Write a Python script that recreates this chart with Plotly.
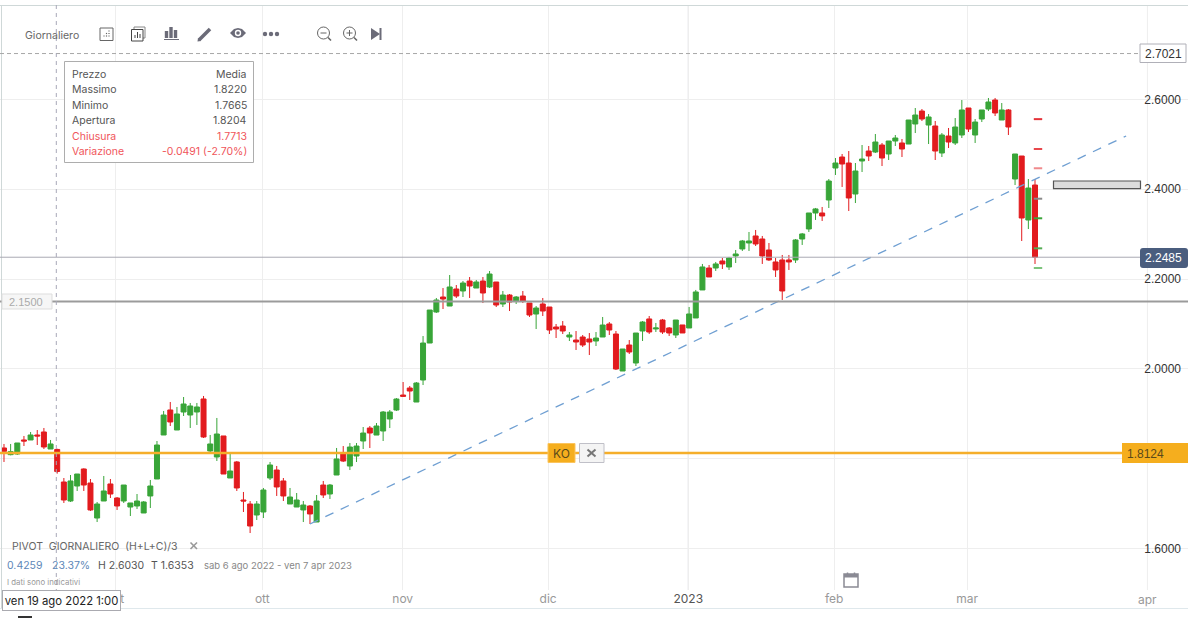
import plotly.graph_objects as go

W, H = 1188, 618

bar_index = list(range(156))
open_ = [1.8237,1.8088,1.8103,1.8415,1.8415,1.8526,1.8593,1.8214,1.8204,1.7479,
1.7056,1.7390,1.7769,1.7457,1.6677,1.7056,1.7435,1.7123,1.7056,1.6922,
1.6945,1.6789,1.7168,1.7546,1.8526,1.9083,1.8637,1.9038,1.8971,1.9038,
1.9328,1.8170,1.8036,1.8504,1.7568,1.7925,1.7078,1.6989,1.6744,1.6811,
1.7568,1.7746,1.7502,1.6989,1.6922,1.6856,1.6945,1.6588,1.7412,1.7212,
1.7635,1.8102,1.7835,1.8058,1.8392,1.8681,1.8525,1.8615,1.8882,1.9082,
1.9416,1.9572,1.9260,1.9750,2.0574,2.1265,2.1599,2.1398,2.1777,2.1733,
2.1955,2.1799,2.1955,2.1822,2.1933,2.1443,2.1643,2.1510,2.1621,2.1465,
2.1220,2.1443,2.1376,2.0931,2.0953,2.0708,2.0641,2.0708,2.0664,2.0619,
2.0708,2.0998,2.0775,1.9951,2.0530,2.0129,2.0842,2.1110,2.0887,2.1087,
2.0909,2.0753,2.0976,2.0909,2.1132,2.1756,2.2245,2.2245,2.2401,2.2268,
2.2513,2.2669,2.2802,2.2958,2.2891,2.2646,2.2379,2.2424,2.2424,2.2424,
2.2891,2.3114,2.3470,2.3470,2.3759,2.4472,2.4717,2.4583,2.3893,2.4628,
2.4850,2.4828,2.4984,2.4784,2.5073,2.5029,2.5006,2.5452,2.5741,2.5429,
2.5407,2.4806,2.5184,2.5029,2.5207,2.5808,2.5207,2.5563,2.5786,2.5986,
2.5541,2.5764,2.4227,2.4739,2.3314,2.4093]
high = [1.8326,1.8326,1.8348,1.8504,1.8593,1.8637,1.8682,1.8415,1.8220,1.7568,
1.7635,1.7657,1.7784,1.7546,1.7034,1.7613,1.7546,1.7145,1.7412,1.7012,
1.7212,1.7056,1.7524,1.8392,1.9061,1.9261,1.9150,1.9372,1.9239,1.9239,
1.9395,1.8526,1.8905,1.8504,1.8147,1.7947,1.7257,1.7056,1.7056,1.7346,
1.7925,1.7836,1.7568,1.7346,1.7234,1.7056,1.6967,1.7190,1.7502,1.7435,
1.8237,1.8280,1.8347,1.8347,1.8704,1.8726,1.8793,1.9060,1.9082,1.9349,
1.9706,1.9617,1.9706,2.0730,2.1309,2.1577,2.1799,2.2089,2.1866,2.1955,
2.2044,2.1978,2.2044,2.2178,2.1933,2.1733,2.1666,2.1621,2.1733,2.1465,
2.1398,2.1577,2.1376,2.0998,2.1064,2.0819,2.0842,2.0753,2.0797,2.0819,
2.1154,2.1042,2.0842,2.0441,2.0641,2.0797,2.1064,2.1176,2.1021,2.1110,
2.0931,2.1087,2.0976,2.1377,2.1756,2.2335,2.2312,2.2379,2.2468,2.2491,
2.2646,2.2869,2.3047,2.3092,2.2958,2.2802,2.2468,2.2535,2.2535,2.2891,
2.3025,2.3470,2.3582,2.3604,2.4227,2.4694,2.4784,2.4850,2.4583,2.4984,
2.4962,2.5229,2.5029,2.5073,2.5207,2.5118,2.5541,2.5808,2.5786,2.5674,
2.5519,2.5251,2.5363,2.5585,2.5986,2.5808,2.5563,2.5764,2.6031,2.6031,
2.5919,2.5786,2.4784,2.4739,2.4227,2.4227]
low = [1.7925,1.8073,1.8081,1.8281,1.8415,1.8303,1.8214,1.8214,1.7665,1.7012,
1.7034,1.7279,1.7279,1.6833,1.6588,1.7056,1.7123,1.6856,1.7012,1.6722,
1.6878,1.6789,1.6900,1.7546,1.8526,1.8726,1.8637,1.8949,1.8682,1.8749,
1.8459,1.8147,1.7947,1.7657,1.7568,1.7279,1.6811,1.6343,1.6633,1.6677,
1.7524,1.7168,1.7056,1.6989,1.6922,1.6588,1.6544,1.6588,1.7123,1.7101,
1.7635,1.7924,1.7746,1.7924,1.8214,1.8236,1.8525,1.8392,1.8681,1.9060,
1.9372,1.9305,1.9260,1.9639,2.0574,2.1243,2.1332,2.1398,2.1577,2.1599,
2.1577,2.1799,2.1465,2.1799,2.1376,2.1376,2.1287,2.1443,2.1465,2.1154,
2.0886,2.1176,2.0775,2.0686,2.0775,2.0619,2.0419,2.0485,2.0307,2.0508,
2.0708,2.0753,1.9973,1.9951,2.0329,2.0062,2.0619,2.0776,2.0820,2.0776,
2.0731,2.0686,2.0798,2.0909,2.1132,2.1756,2.2045,2.2179,2.2223,2.2201,
2.2357,2.2624,2.2624,2.2735,2.2335,2.2401,2.2045,2.1533,2.2201,2.2357,
2.2758,2.3047,2.3315,2.3292,2.3581,2.4316,2.4049,2.3514,2.3692,2.4383,
2.4628,2.4806,2.4516,2.4650,2.4962,2.4717,2.5006,2.5251,2.5519,2.5006,
2.4650,2.4717,2.4917,2.4984,2.5140,2.5274,2.5029,2.5496,2.5741,2.5630,
2.5541,2.5207,2.4093,2.2846,2.3113,2.2334]
close = [1.8162,1.8155,1.8348,1.8392,1.8526,1.8504,1.8259,1.8326,1.7713,1.7078,
1.7502,1.7657,1.7412,1.6856,1.6989,1.7279,1.7212,1.6945,1.7412,1.7012,
1.7056,1.7034,1.7390,1.8303,1.8971,1.8816,1.8994,1.9216,1.9172,1.9150,
1.8481,1.8326,1.8548,1.7657,1.7724,1.7346,1.7056,1.6499,1.6989,1.7301,
1.7858,1.7368,1.7168,1.7145,1.7078,1.6967,1.6767,1.7056,1.7190,1.7412,
1.7992,1.7946,1.8258,1.8280,1.8570,1.8570,1.8726,1.9038,1.9038,1.9327,
1.9387,1.9505,1.9684,2.0574,2.1309,2.1532,2.1554,2.1822,2.1621,2.1911,
2.1844,2.1933,2.1688,2.2111,2.1421,2.1643,2.1488,2.1599,2.1510,2.1198,
2.1354,2.1287,2.0864,2.0886,2.0842,2.0753,2.0597,2.0530,2.0597,2.0686,
2.0975,2.0864,1.9995,2.0441,2.0374,2.0797,2.1042,2.0820,2.0909,2.0820,
2.0798,2.1087,2.0798,2.1221,2.1711,2.2268,2.2045,2.2335,2.2335,2.2468,
2.2557,2.2847,2.2847,2.2780,2.2513,2.2424,2.2201,2.1733,2.2379,2.2869,
2.3003,2.3470,2.3560,2.3404,2.4182,2.4583,2.4561,2.3804,2.4405,2.4672,
2.4739,2.5051,2.4694,2.5073,2.5140,2.4895,2.5541,2.5652,2.5563,2.5608,
2.4850,2.5207,2.5051,2.5385,2.5764,2.5340,2.5496,2.5764,2.5942,2.5697,
2.5764,2.5385,2.4784,2.3358,2.4026,2.2485]

pivot_levels = [2.5560, 2.4895, 2.4466, 2.3788, 2.3352, 2.2683, 2.2245]
pivot_colors = ["#e53238", "#e8474c", "#f08a8c", "#8a8a8a", "#3aa53a", "#55ad55", "#7cc47c"]
trend_x = [46, 168.7]
trend_y = [1.6544, 2.5185]
tick_pos = [16.76, 38.83, 59.94, 81.8, 102.87, 124.8, 144.8]
tick_text = ["set", "ott", "nov", "dic", "<span style='color:#555'>2023</span>", "feb", "mar"]
last_tick_pos = 171.9
last_tick_text = "apr"
price_ticks = [1.6, 1.8, 2.0, 2.2, 2.4, 2.6]
price_text = ["1.6000", "", "2.0000", "2.2000", "2.4000", "2.6000"]
last_price = 2.2485
support = 2.15
knockout = 1.8124
upper = 2.7021
tooltip_labels = ["Prezzo", "Massimo", "Minimo", "Apertura", "Chiusura", "Variazione"]
tooltip_values = ["Media", "1.8220", "1.7665", "1.8204", "1.7713", "-0.0491 (-2.70%)"]

FONT = "Inter, 'Noto Sans', sans-serif"
ARIAL = "'Liberation Sans', Arial, sans-serif"
GREEN, RED = "#38A538", "#E21B1E"
GREY = "#6b6b78"
X = lambda p: p / W
Y = lambda p: 1 - p / H

fig = go.Figure()
fig.add_trace(go.Candlestick(
    x=bar_index, open=open_, high=high, low=low, close=close,
    increasing=dict(line=dict(color=GREEN, width=1), fillcolor=GREEN),
    decreasing=dict(line=dict(color=RED, width=1), fillcolor=RED),
    whiskerwidth=0, hoverinfo="skip", showlegend=False))
fig.add_trace(go.Scatter(
    x=trend_x, y=trend_y, mode="lines", hoverinfo="skip", showlegend=False,
    line=dict(color="#6f9fd2", width=1.3, dash="9px,8px")))
fig.add_trace(go.Scatter(
    x=[155.45] * len(pivot_levels), y=pivot_levels, mode="markers", hoverinfo="skip", showlegend=False,
    marker=dict(symbol="line-ew", size=6, line=dict(color=pivot_colors, width=2))))

shapes, ann = [], []

def rect(x0, y0, x1, y1, fill="rgba(0,0,0,0)", line=None, width=1, layer="above"):
    shapes.append(dict(type="rect", xref="paper", yref="paper", x0=X(x0), x1=X(x1), y0=Y(y0), y1=Y(y1),
                       fillcolor=fill, layer=layer, line=dict(color=line or "rgba(0,0,0,0)", width=width if line else 0)))

def seg(x0, y0, x1, y1, color, width=1, dash=None, layer="above"):
    shapes.append(dict(type="line", xref="paper", yref="paper", x0=X(x0), x1=X(x1), y0=Y(y0), y1=Y(y1),
                       layer=layer, line=dict(color=color, width=width, dash=dash or "solid")))

def circ(cx, cy, r, fill="rgba(0,0,0,0)", line=None, width=1):
    rect(cx - r, cy - r, cx + r, cy + r, fill, line, width)
    shapes[-1]["type"] = "circle"

def poly(points, fill):
    d = "M " + " L ".join(f"{X(a):.5f} {Y(b):.5f}" for a, b in points) + " Z"
    shapes.append(dict(type="path", xref="paper", yref="paper", path=d, fillcolor=fill, line=dict(width=0), layer="above"))

def text(x, y, s, size=11, color="#555", anchor="left", family=FONT, **kw):
    ann.append(dict(xref="paper", yref="paper", x=X(x), y=Y(y), text=s, showarrow=False, xanchor=anchor, yanchor="middle",
                    font=dict(family=family, size=size, color=color), borderpad=0, **kw))

def hline(val, x1, color, width, dash="solid"):
    shapes.append(dict(type="line", xref="paper", yref="y", x0=0, x1=X(x1), y0=val, y1=val, layer="above",
                       line=dict(color=color, width=width, dash=dash)))

# frame and guide lines
seg(0, 5.5, 1188, 5.5, "#cfd8d8")
seg(1.5, 5, 1.5, 608, "#cfd8d8")
seg(0, 608.5, 1188, 608.5, "#dfe8ec")
shapes.append(dict(type="line", xref="x", yref="paper", x0=tick_pos[4], x1=tick_pos[4], y0=Y(590), y1=Y(5),
                   layer="below", line=dict(color="#d6d6dc", width=1)))
shapes.append(dict(type="line", xref="x", yref="paper", x0=last_tick_pos, x1=last_tick_pos, y0=Y(590), y1=Y(5),
                   layer="below", line=dict(color="#eeeeee", width=1)))
ann.append(dict(xref="x", yref="paper", x=last_tick_pos, y=Y(599), text=last_tick_text, showarrow=False,
                xanchor="center", yanchor="middle", borderpad=0,
                font=dict(family=FONT, size=12, color="#999999")))
hline(upper, 1140, "#a8a8a8", 1, "4px,3px")
hline(last_price, 1140, "#a9a9b3", 1)
hline(support, 1188, "#9b9b9b", 2)
hline(knockout, 1122, "#F5AE2A", 2.5)
seg(56.3, 5, 56.3, 590, "#a8a8b8", 1, "4px,4px")

# tooltip
rect(64.5, 61.5, 253.5, 162.5, "#ffffff", "#adadad", 1)
for i, (a, b) in enumerate(zip(tooltip_labels, tooltip_values)):
    c = "#f0555a" if i >= 4 else "#555"
    ry = [74, 89.5, 105, 120, 136, 151][i]
    text(71, ry, a, 10.5, c)
    text(247.5, ry, b, 10.5, c, "right")

# toolbar
text(24, 35, "Giornaliero", 10.5, "#666")
rect(100, 28, 113, 40.5, "rgba(0,0,0,0)", "#666", 1)
for dx, dy in [(104, 36), (106.5, 36), (109, 36), (106.5, 33.5), (109, 33.5), (109, 31)]:
    rect(dx - .6, dy - .6, dx + .6, dy + .6, "#666")
rect(134, 27, 145, 38, "rgba(0,0,0,0)", "#888", 1)
rect(131.5, 29.5, 143, 41, "#ffffff", "#444", 1)
for bx, t in [(135, 35), (137.5, 32), (140, 34)]:
    seg(bx, t, bx, 38, "#444", 1)
for bx, t in [(166.5, 31), (171, 27), (175.5, 30)]:
    rect(bx - 1.7, t, bx + 1.7, 38, GREY)
seg(164, 39.5, 179, 39.5, GREY, 1)
seg(199, 40, 210, 29, GREY, 3.5)
poly([(197.5, 41.5), (198, 38), (201, 41)], GREY)
poly([(230, 33), (234, 29), (238, 28), (242, 29), (246, 33), (242, 37), (238, 38), (234, 37)], GREY)
circ(238, 33, 3.2, "#ffffff")
circ(238, 33, 1.8, GREY)
for cx in (265, 271, 277):
    circ(cx, 34, 2.2, GREY)
for cx in (324, 350):
    circ(cx - .5, 33, 6, "rgba(0,0,0,0)", "#666", 1)
    seg(cx + 4, 37.5, cx + 7, 40.5, "#666", 1.6)
    seg(cx - 3.5, 33, cx + 2.5, 33, "#666", 1)
seg(349.5, 30, 349.5, 36, "#666", 1)
poly([(371, 28), (380, 34), (371, 40)], GREY)
rect(379.5, 28, 381.5, 40, GREY)

# right-hand labels
rect(1140, 44, 1186, 62.5, "#ffffff", "#b0b0b8", 1)
text(1163, 53.5, "2.7021", 12, "#333", "center", family=ARIAL)
x0, x1, y0, y1, r = 1140, 1188, 248, 268, 3
path = (f"M {X(x0+r)} {Y(y0)} L {X(x1-r)} {Y(y0)} Q {X(x1)} {Y(y0)} {X(x1)} {Y(y0+r)} L {X(x1)} {Y(y1-r)} "
        f"Q {X(x1)} {Y(y1)} {X(x1-r)} {Y(y1)} L {X(x0+r)} {Y(y1)} Q {X(x0)} {Y(y1)} {X(x0)} {Y(y1-r)} "
        f"L {X(x0)} {Y(y0+r)} Q {X(x0)} {Y(y0)} {X(x0+r)} {Y(y0)} Z")
shapes.append(dict(type="path", xref="paper", yref="paper", path=path, fillcolor="#4a5d7e", line=dict(width=0), layer="above"))
text(1163, 258, "2.2485", 12, "#ffffff", "center", family=ARIAL)
rect(1122, 443, 1188, 463, "#F5AE1E")
text(1145, 453.5, "1.8124", 12, "#5a4a1a", "center", family=ARIAL)
rect(1053.5, 181, 1140.5, 188.7, "#dcdcdc", "#555", 1.2)

# left level tag, KO tag
rect(2, 294, 52, 309, "#f6f6f6", "#dddddd", 1)
text(26, 301.5, "2.1500", 11, "#aaaaaa", "center", family=ARIAL)
rect(548, 443.5, 575, 462.5, "#F5AE1E", "#fbc45e", 1)
text(561.5, 453, "KO", 12, "#5a4a1a", "center")
rect(579.5, 443.5, 604, 462.5, "#f4f4f4", "#c0c0c8", 1)
seg(587.5, 449.5, 595.5, 456.5, "#777", 2)
seg(587.5, 456.5, 595.5, 449.5, "#777", 2)

# lower-left block
text(11, 546, "PIVOT  GIORNALIERO  (H+L+C)/3", 10.5, "#666")
seg(190.5, 542.5, 197, 549, "#999", 1.6)
seg(190.5, 549, 197, 542.5, "#999", 1.6)
text(5.5, 565, "0.4259", 10.5, "#5d87b8")
text(50.5, 565, "23.37%", 10.5, "#5d87b8")
text(96.5, 565, "H 2.6030", 10.5, "#555")
text(149.5, 565, "T 1.6353", 10.5, "#555")
text(202.5, 565, "sab 6 ago 2022 - ven 7 apr 2023", 9.5, "#888")
text(6, 582, "I dati sono indicativi", 7.8, "#999")
ann.append(dict(xref="paper", yref="paper", x=X(1.5), y=Y(600), text="ven 19 ago 2022 1:00", showarrow=False,
                xanchor="left", yanchor="middle", align="center", width=115, height=17, bgcolor="#ffffff",
                bordercolor="#aaaab0", borderwidth=1, borderpad=1,
                font=dict(family=FONT, size=11.3, color="#222")))
rect(18, 616, 32, 618, "#333")

# calendar icon
rect(844, 574, 858, 587, "#ffffff", "#8a8a94", 1.5)
rect(844, 574, 858, 577.5, "#8a8a94")
for cx in (847.5, 854.5):
    seg(cx, 572.5, cx, 575, "#8a8a94", 1.5)

fig.update_layout(
    width=W, height=H, margin=dict(l=0, r=0, t=0, b=0),
    autosize=False, showlegend=False, paper_bgcolor="#ffffff", plot_bgcolor="#ffffff",
    boxgap=0.25, boxgroupgap=0, hovermode=False,
    font=dict(family=FONT, size=12),
    shapes=shapes, annotations=ann,
    xaxis=dict(range=[-0.6, 178], domain=[0, 1], rangeslider=dict(visible=False),
               tickvals=tick_pos, ticktext=tick_text, showgrid=True, gridcolor="#eeeeee", gridwidth=1,
               tickfont=dict(family=FONT, size=12, color="#999999"), ticks="", zeroline=False, showline=False),
    yaxis=dict(range=[1.5074, 2.8102], domain=[(H - 590) / H, (H - 5) / H], side="right",
               ticklabelposition="inside", tickvals=price_ticks, ticktext=price_text,
               tickfont=dict(family=ARIAL, size=12, color="#333333"), ticks="", ticklabelstandoff=4,
               showgrid=True, gridcolor="#eeeeee", gridwidth=1, zeroline=False, showline=False))

fig.write_html("out.html", config={"displayModeBar": False},
               post_script="document.body.style.margin='0';document.documentElement.style.overflow='hidden';")
